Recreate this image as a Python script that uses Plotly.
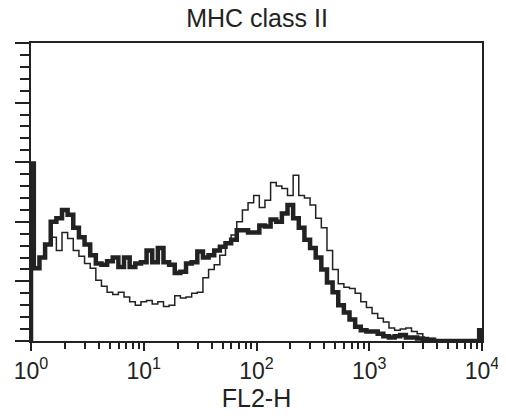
import numpy as np
import plotly.graph_objs as go

# FL2-H channel positions: 0.05 decade steps from 10^0 to 10^4
log_step = 0.05
channels = [10 ** (i * log_step) for i in range(81)]

# event counts (thick = first sample, thin = second)
counts_thick = [149, 61, 70, 81, 100, 103, 110, 106, 95, 87,
                81, 72, 65, 64, 67, 70, 62, 70, 62, 65,
                66, 76, 66, 78, 66, 64, 57, 58, 65, 66,
                75, 70, 72, 76, 79, 82, 85, 93, 93, 91,
                91, 97, 96, 102, 100, 107, 114, 103, 95, 85,
                78, 70, 60, 49, 41, 30, 24, 18, 12, 9,
                8, 8, 6, 4, 3, 4, 5, 3, 3, 2,
                1, 1, 0, 0, 0, 0, 0, 0, 0, 0, 9]
counts_thin = [62, 61, 70, 81, 87, 76, 91, 86, 76, 71,
               65, 61, 51, 46, 41, 39, 41, 37, 33, 30,
               33, 34, 31, 33, 29, 30, 38, 36, 37, 40,
               41, 53, 60, 64, 72, 83, 89, 100, 110, 116,
               122, 112, 118, 133, 130, 128, 122, 139, 122, 120,
               114, 103, 95, 76, 60, 48, 45, 44, 40, 33,
               28, 23, 19, 16, 11, 9, 10, 11, 8, 6,
               3, 2, 1, 0, 0, 0, 0, 0, 0, 0, 6]

tick_vals = [1, 10, 100, 1000, 10000]
tick_text = ['10<sup>0</sup>', '10<sup>1</sup>', '10<sup>2</sup>',
             '10<sup>3</sup>', '10<sup>4</sup>']

ink = '#222222'
font_family = 'Liberation Sans, Arial, sans-serif'


def outline(xs, ys):
    # close the histogram onto the baseline at both ends
    return [xs[0]] + list(xs) + [xs[-1]], [0] + list(ys) + [0]


minor_x = [m * 10 ** d for d in range(4) for m in range(2, 10)]

fig = go.Figure()
x, y = outline(channels, counts_thin)
fig.add_trace(go.Scatter(x=x, y=y, mode='lines', line=dict(color=ink, width=1.5, shape='hvh'),
                         showlegend=False))
x, y = outline(channels, counts_thick)
fig.add_trace(go.Scatter(x=x, y=y, mode='lines', line=dict(color=ink, width=4.5, shape='hvh'),
                         showlegend=False))

# page body has an 8px margin, so the figure is 8px smaller than the window
fig.update_layout(
    width=498, height=408,
    margin=dict(l=23, r=24, t=35, b=75),
    paper_bgcolor='white', plot_bgcolor='white',
    font=dict(family=font_family, color=ink, size=22),
    title=dict(text='MHC class II', x=0.5, xref='container', xanchor='center',
               y=1 - 10 / 408, yref='container', yanchor='middle',
               font=dict(size=25, color=ink)),
)
fig.update_xaxes(
    type='log', range=[0, 4], automargin=False,
    tickmode='array', tickvals=tick_vals, ticktext=tick_text,
    ticks='outside', ticklen=8, tickwidth=2, tickcolor=ink,
    minor=dict(tickvals=minor_x, ticks='outside', ticklen=6, tickwidth=1.5, tickcolor=ink),
    showline=True, linewidth=2, linecolor=ink, mirror=True,
    showgrid=False, zeroline=False,
    tickfont=dict(size=23),
    title=dict(text='FL2-H', font=dict(size=25), standoff=4),
)
fig.update_yaxes(
    range=[0, 250], dtick=50, automargin=False,
    ticks='outside', ticklen=14, tickwidth=2, tickcolor=ink,
    minor=dict(dtick=10, ticks='outside', ticklen=9, tickwidth=1.5, tickcolor=ink),
    showticklabels=False,
    showline=True, linewidth=2, linecolor=ink, mirror=True,
    showgrid=False, zeroline=False,
)

fig.write_html("out.html")
